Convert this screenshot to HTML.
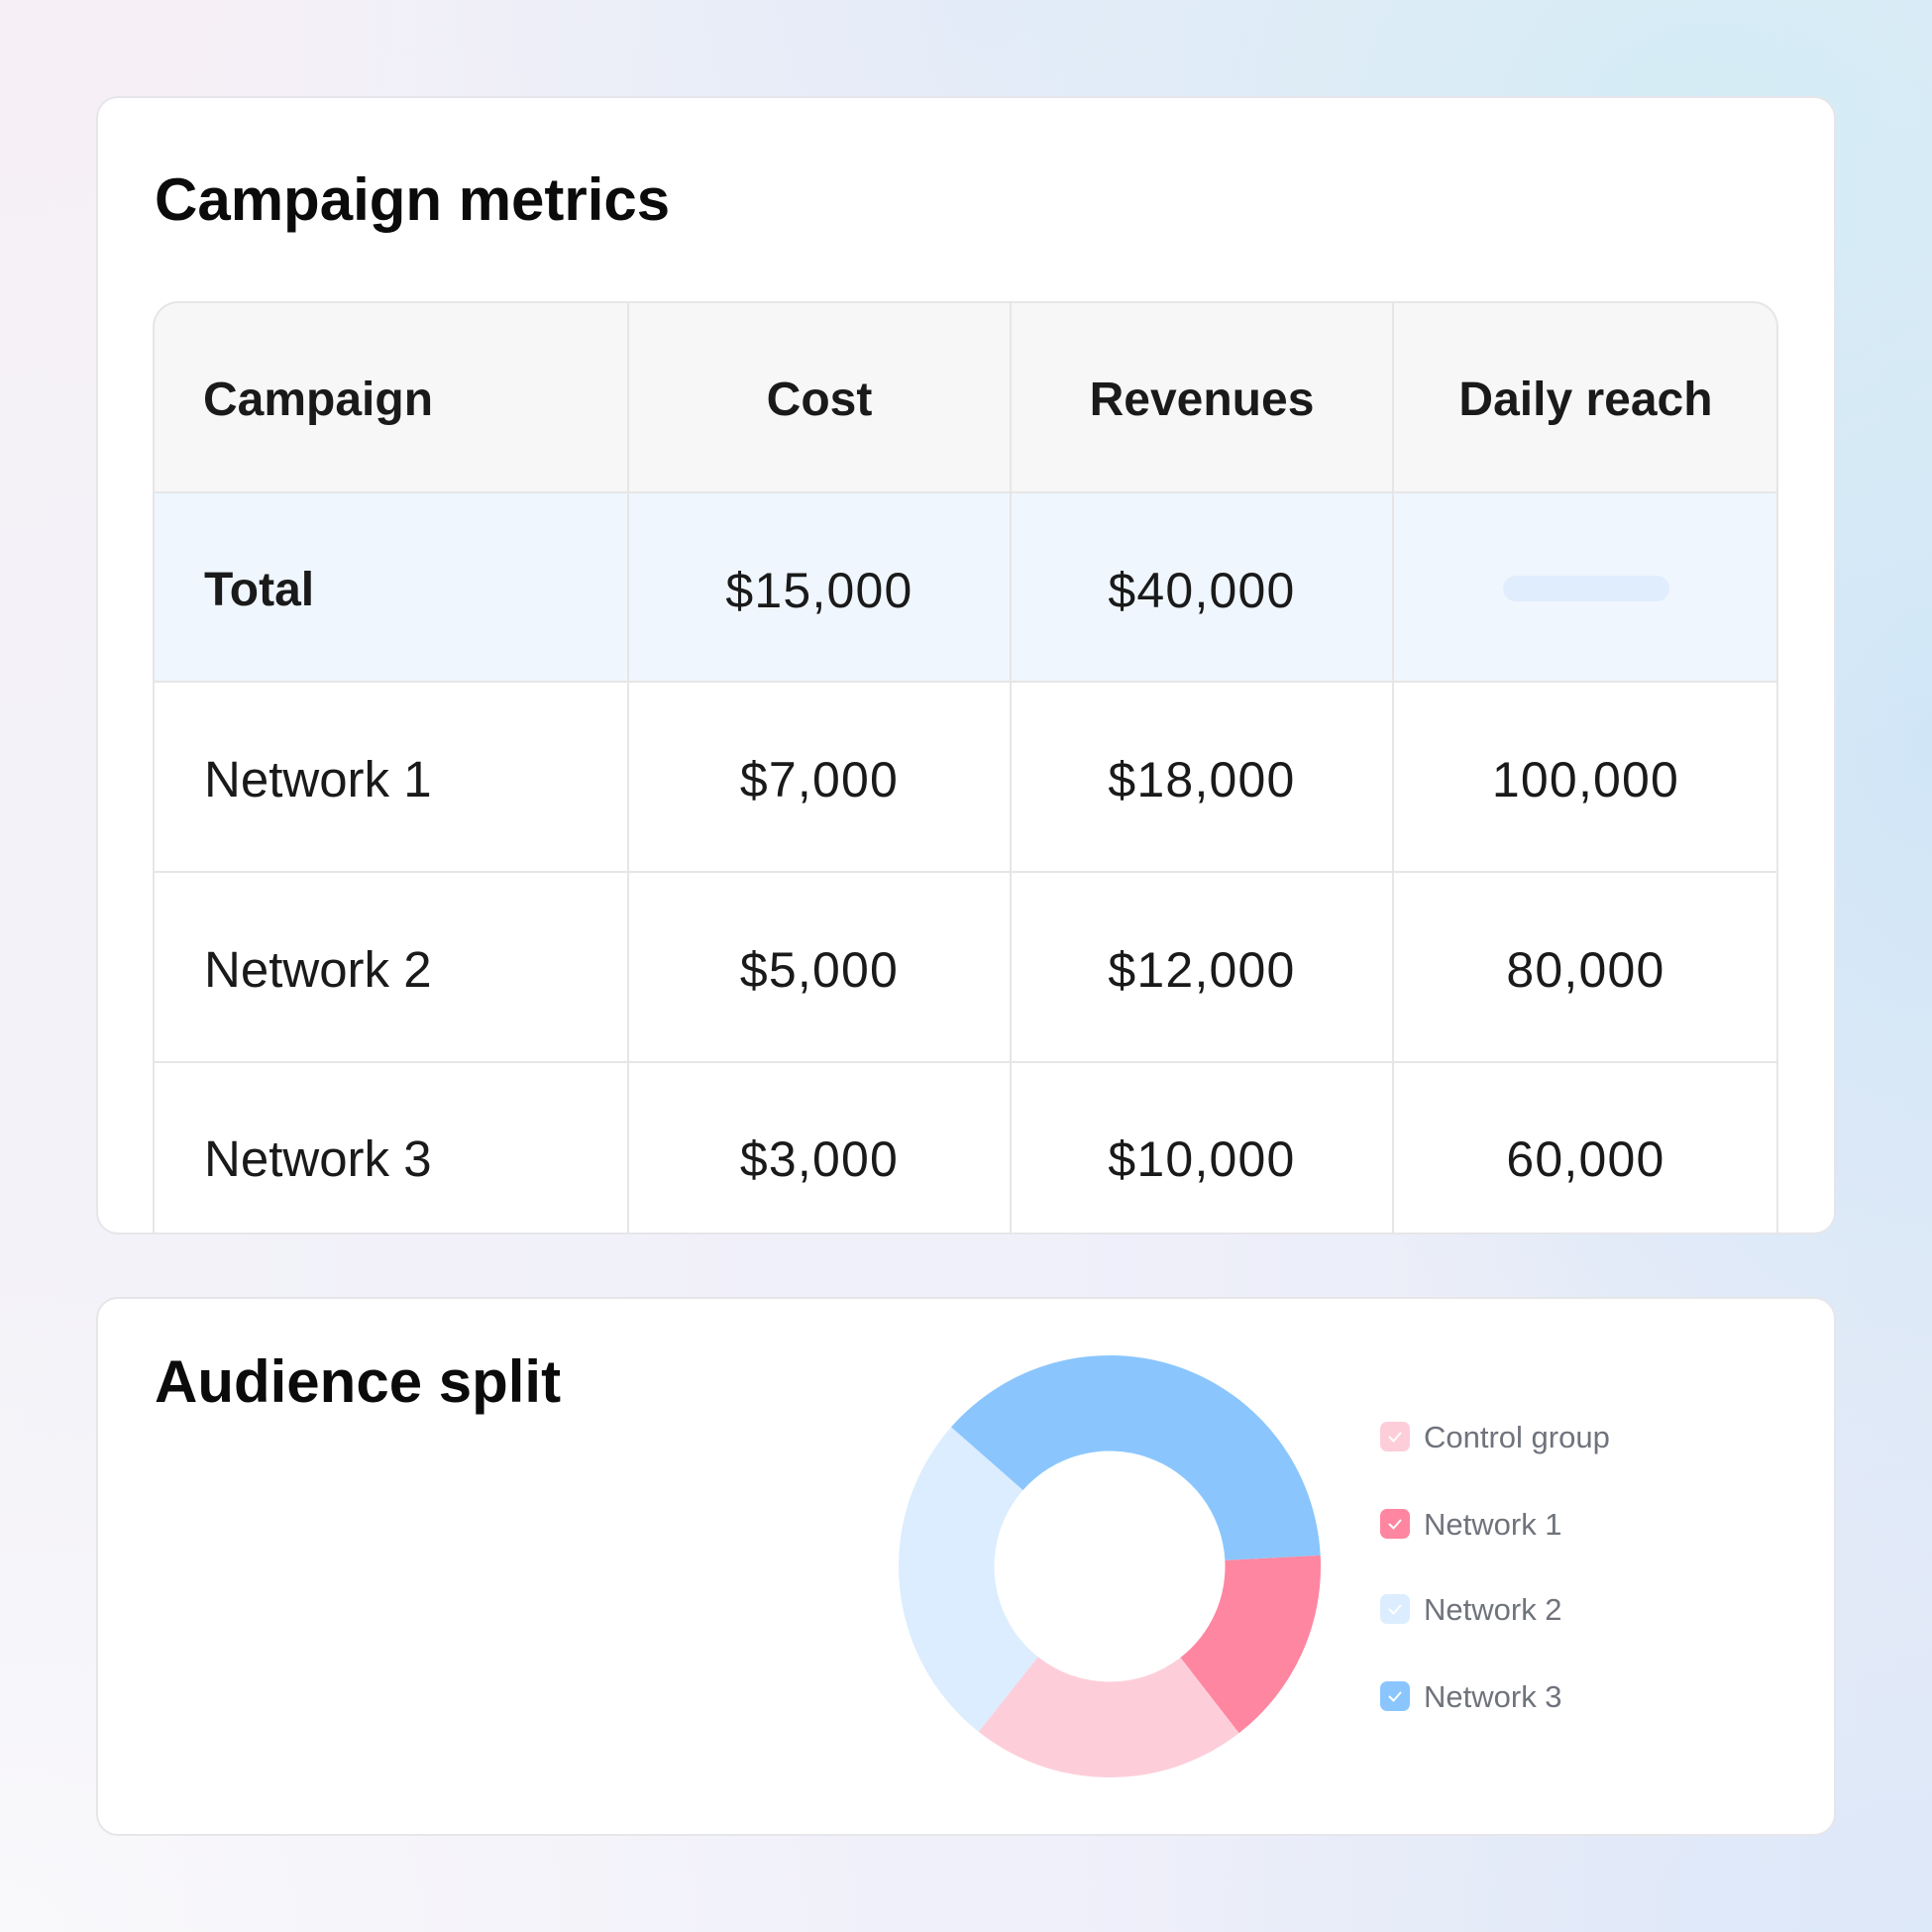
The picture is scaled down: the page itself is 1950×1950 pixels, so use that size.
<!DOCTYPE html>
<html>
<head>
<meta charset="utf-8">
<style>
  html,body{margin:0;padding:0;}
  body{width:1950px;height:1950px;overflow:hidden;}
  #page{position:relative;width:1950px;height:1950px;overflow:hidden;
    font-family:"Liberation Sans",Arial,sans-serif;
    background:
      radial-gradient(ellipse 800px 650px at 1720px 120px, rgba(212,236,245,1), rgba(212,236,245,0)),
      radial-gradient(ellipse 650px 900px at 1950px 750px, rgba(208,230,247,1), rgba(208,230,247,0)),
      radial-gradient(ellipse 800px 600px at 1950px 1950px, rgba(221,232,249,1), rgba(221,232,249,0)),
      radial-gradient(ellipse 700px 700px at 1000px 0px, rgba(228,235,248,1), rgba(228,235,248,0)),
      radial-gradient(ellipse 900px 800px at 0px 0px, rgba(246,240,246,1), rgba(246,240,246,0)),
      radial-gradient(ellipse 900px 700px at 0px 1950px, rgba(249,248,251,1), rgba(249,248,251,0)),
      linear-gradient(90deg, #F3F2F8 0%, #F0F0FA 50%, #E6EBF7 100%);
  }
  .abs{position:absolute;}
  .card{position:absolute;background:#fff;border:2px solid #E6E6EA;border-radius:22px;box-sizing:border-box;}
  .title{position:absolute;font-weight:bold;font-size:60px;line-height:60px;color:#0b0b0b;white-space:nowrap;}
  .hline{position:absolute;left:154px;width:1641px;height:2px;background:#E6E6E6;}
  .vline{position:absolute;top:304px;width:2px;height:942px;background:#E6E6E6;}
  .th{position:absolute;font-weight:bold;font-size:48px;line-height:48px;color:#1a1a1a;white-space:nowrap;}
  .lab{position:absolute;left:206px;font-size:51px;line-height:51px;color:#1a1a1a;white-space:nowrap;}
  .num{position:absolute;font-size:50px;line-height:50px;color:#1a1a1a;text-align:center;white-space:nowrap;letter-spacing:1.2px;}
  .c2{left:634px;width:386px;}
  .c3{left:1020px;width:386px;}
  .c4{left:1406px;width:389px;}
  .box{position:absolute;left:1393px;width:30px;height:30px;border-radius:7px;}
  .box svg{position:absolute;left:0;top:0;}
  .lg{position:absolute;left:1437px;font-size:31px;line-height:31px;color:#6F737C;white-space:nowrap;}
</style>
</head>
<body>
<div id="page">

  <!-- Card 1 -->
  <div class="card" style="left:97px;top:97px;width:1756px;height:1149px;"></div>
  <div class="title" style="left:156px;top:172px;">Campaign metrics</div>

  <!-- table backgrounds -->
  <div class="abs" style="left:154px;top:304px;width:1641px;height:193px;background:#F7F7F7;border-radius:26px 26px 0 0;"></div>
  <div class="abs" style="left:154px;top:497px;width:1641px;height:191px;background:#EFF6FE;"></div>
  <!-- table outer border -->
  <div class="abs" style="left:154px;top:304px;width:1641px;height:942px;border:2px solid #E6E6E6;border-bottom:none;border-radius:26px 26px 0 0;box-sizing:border-box;"></div>
  <!-- grid lines -->
  <div class="hline" style="top:496px;"></div>
  <div class="hline" style="top:687px;"></div>
  <div class="hline" style="top:879px;"></div>
  <div class="hline" style="top:1071px;"></div>
  <div class="vline" style="left:633px;"></div>
  <div class="vline" style="left:1019px;"></div>
  <div class="vline" style="left:1405px;"></div>

  <!-- header -->
  <div class="th" style="left:205px;top:380px;">Campaign</div>
  <div class="th c2" style="top:380px;text-align:center;">Cost</div>
  <div class="th c3" style="top:380px;text-align:center;">Revenues</div>
  <div class="th c4" style="top:380px;text-align:center;">Daily reach</div>

  <!-- Total row -->
  <div class="th" style="left:206px;top:572px;">Total</div>
  <div class="num c2" style="top:571px;">$15,000</div>
  <div class="num c3" style="top:571px;">$40,000</div>
  <div class="abs" style="left:1517px;top:581px;width:168px;height:26px;border-radius:13px;background:#E0EDFD;"></div>

  <!-- Network 1 -->
  <div class="lab" style="top:761px;">Network 1</div>
  <div class="num c2" style="top:762px;">$7,000</div>
  <div class="num c3" style="top:762px;">$18,000</div>
  <div class="num c4" style="top:762px;">100,000</div>

  <!-- Network 2 -->
  <div class="lab" style="top:953px;">Network 2</div>
  <div class="num c2" style="top:954px;">$5,000</div>
  <div class="num c3" style="top:954px;">$12,000</div>
  <div class="num c4" style="top:954px;">80,000</div>

  <!-- Network 3 -->
  <div class="lab" style="top:1144px;">Network 3</div>
  <div class="num c2" style="top:1145px;">$3,000</div>
  <div class="num c3" style="top:1145px;">$10,000</div>
  <div class="num c4" style="top:1145px;">60,000</div>

  <!-- Card 2 -->
  <div class="card" style="left:97px;top:1309px;width:1756px;height:544px;"></div>
  <div class="title" style="left:156px;top:1365px;">Audience split</div>

  <!-- Donut -->
  <svg class="abs" style="left:0;top:0;" width="1950" height="1950" viewBox="0 0 1950 1950">
    <path fill="#8AC6FD" d="M 959.98 1440.42 A 213 213 0 0 1 1332.71 1569.85 L 1236.34 1574.90 A 116.5 116.5 0 0 0 1032.48 1504.11 Z"/>
    <path fill="#FF86A0" d="M 1332.71 1569.85 A 213 213 0 0 1 1250.55 1749.30 L 1191.40 1673.05 A 116.5 116.5 0 0 0 1236.34 1574.90 Z"/>
    <path fill="#FDCEDA" d="M 1250.55 1749.30 A 213 213 0 0 1 987.70 1747.93 L 1047.64 1672.30 A 116.5 116.5 0 0 0 1191.40 1673.05 Z"/>
    <path fill="#DBEDFE" d="M 987.70 1747.93 A 213 213 0 0 1 959.98 1440.42 L 1032.48 1504.11 A 116.5 116.5 0 0 0 1047.64 1672.30 Z"/>
  </svg>

  <!-- Legend -->
  <div class="box" style="top:1435px;background:#FDCEDA;">
    <svg width="30" height="30"><polyline points="9.5,15.5 13.5,19.5 20.5,11.5" fill="none" stroke="#fff" stroke-width="2" stroke-linecap="round" stroke-linejoin="round"/></svg>
  </div>
  <div class="lg" style="top:1435px;">Control group</div>

  <div class="box" style="top:1523px;background:#FF86A0;">
    <svg width="30" height="30"><polyline points="9.5,15.5 13.5,19.5 20.5,11.5" fill="none" stroke="#fff" stroke-width="2" stroke-linecap="round" stroke-linejoin="round"/></svg>
  </div>
  <div class="lg" style="top:1523px;">Network 1</div>

  <div class="box" style="top:1609px;background:#DBEDFE;">
    <svg width="30" height="30"><polyline points="9.5,15.5 13.5,19.5 20.5,11.5" fill="none" stroke="#fff" stroke-width="2" stroke-linecap="round" stroke-linejoin="round"/></svg>
  </div>
  <div class="lg" style="top:1609px;">Network 2</div>

  <div class="box" style="top:1697px;background:#8AC6FD;">
    <svg width="30" height="30"><polyline points="9.5,15.5 13.5,19.5 20.5,11.5" fill="none" stroke="#fff" stroke-width="2" stroke-linecap="round" stroke-linejoin="round"/></svg>
  </div>
  <div class="lg" style="top:1697px;">Network 3</div>

</div>
</body>
</html>
